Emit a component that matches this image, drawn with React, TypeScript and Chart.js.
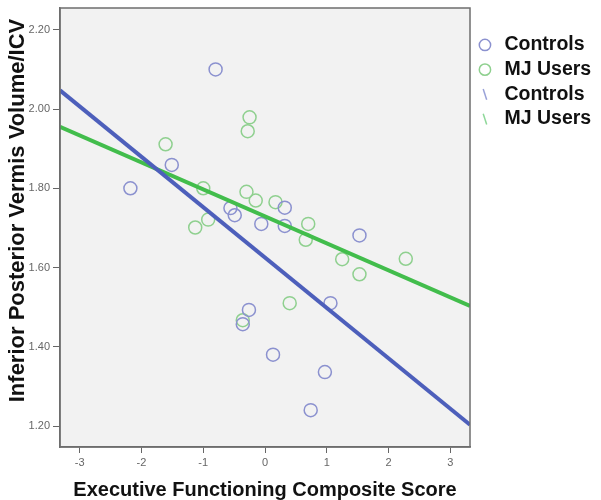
import React, { useEffect, useRef } from "react";
import { Chart, registerables } from "chart.js";

Chart.register(...registerables);

// Controls (blue) scatter points
const controlsX = [-0.8, -1.51, -2.18, -0.56, -0.49, -0.06, 0.32, 0.32, 1.53, 1.06, -0.26, -0.36, 0.13, 0.97, 0.74];
const controlsY = [2.1, 1.859, 1.8, 1.75, 1.732, 1.71, 1.751, 1.705, 1.681, 1.51, 1.493, 1.457, 1.38, 1.336, 1.24];

// MJ Users (green) scatter points
const mjX = [-0.25, -0.28, -1.61, -1.0, -0.3, -0.15, 0.17, -0.92, -1.13, 0.7, 0.66, 1.25, 1.53, 0.4, -0.36, 2.28];
const mjY = [1.979, 1.944, 1.911, 1.8, 1.791, 1.769, 1.765, 1.721, 1.701, 1.71, 1.67, 1.621, 1.583, 1.51, 1.467, 1.622];

// Fit lines (endpoints read at the plot edges)
const fitX = [-3.32, 3.32];
const controlsFitY = [2.047, 1.203];
const mjFitY = [1.955, 1.503];

const xTicks = [-3, -2, -1, 0, 1, 2, 3];
const yTicks = [1.2, 1.4, 1.6, 1.8, 2.0, 2.2];

const seriesLabels = ["Controls", "MJ Users", "Controls", "MJ Users"];

const toPts = (xs: number[], ys: number[]) => xs.map((x, i) => ({ x, y: ys[i] }));

export default function App() {
  const ref = useRef<HTMLCanvasElement>(null);

  useEffect(() => {
    if (!ref.current) return;
    const bgPlugin = {
      id: "plotBg",
      beforeDraw(chart: any) {
        const { ctx, chartArea: a } = chart;
        ctx.save();
        ctx.fillStyle = "#f2f2f2";
        ctx.fillRect(a.left, a.top, a.right - a.left, a.bottom - a.top);
        ctx.restore();
      },
      afterDraw(chart: any) {
        const { ctx, chartArea: a } = chart;
        ctx.save();
        ctx.strokeStyle = "#6e6e6e";
        ctx.lineWidth = 1.5;
        ctx.strokeRect(a.left, a.top, a.right - a.left, a.bottom - a.top);
        ctx.restore();
      },
    };

    const chart = new Chart(ref.current, {
      type: "scatter",
      data: {
        datasets: [
          {
            label: seriesLabels[0],
            data: toPts(controlsX, controlsY),
            borderColor: "#8b91cf",
            backgroundColor: "transparent",
            pointRadius: 6.5,
            pointBorderWidth: 1.5,
            pointStyle: "circle",
            order: 2,
          },
          {
            label: seriesLabels[1],
            data: toPts(mjX, mjY),
            borderColor: "#8fd08f",
            backgroundColor: "transparent",
            pointRadius: 6.5,
            pointBorderWidth: 1.5,
            pointStyle: "circle",
            order: 2,
          },
          {
            label: seriesLabels[2],
            data: toPts(fitX, controlsFitY),
            showLine: true,
            borderColor: "#4d5fbb",
            backgroundColor: "#4d5fbb",
            borderWidth: 4,
            pointRadius: 0,
            pointStyle: "line",
            pointRotation: 72,
            order: 1,
          },
          {
            label: seriesLabels[3],
            data: toPts(fitX, mjFitY),
            showLine: true,
            borderColor: "#42bd4c",
            backgroundColor: "#42bd4c",
            borderWidth: 4,
            pointRadius: 0,
            pointStyle: "line",
            pointRotation: 72,
            order: 1,
          },
        ],
      },
      options: {
        animation: false,
        responsive: false,
        maintainAspectRatio: false,
        layout: { padding: { top: 5, left: 0, right: 0, bottom: 0 } },
        plugins: {
          tooltip: { enabled: false },
          legend: {
            position: "right",
            align: "start",
            title: { display: true, text: "", font: { size: 10, lineHeight: 1 }, padding: { top: 7.5, bottom: 7.5 } },
            labels: {
              usePointStyle: true,
              boxWidth: 19.5,
              boxHeight: 8,
              padding: 5.2,
              color: "#111",
              font: { family: "'Liberation Sans', Arial, sans-serif", size: 19.5, weight: "bold" },
              sort: (a: any, b: any) => a.datasetIndex - b.datasetIndex,
              generateLabels: (chart: any) => {
                const items = Chart.defaults.plugins.legend.labels.generateLabels(chart);
                return items.map((it: any) => {
                  const line = it.datasetIndex >= 2;
                  return {
                    ...it,
                    lineWidth: 1.5,
                    fillStyle: "transparent",
                    strokeStyle: line ? (it.datasetIndex === 2 ? "#9aa2d8" : "#8fd89a") : it.strokeStyle,
                  };
                });
              },
            },
          },
        },
        scales: {
          x: {
            type: "linear",
            min: -3.32,
            max: 3.32,
            afterBuildTicks: (s: any) => {
              s.ticks = xTicks.map((v) => ({ value: v }));
            },
            afterFit: (s: any) => {
              s.height = 53;
              s.paddingLeft = 0;
              s.paddingRight = 0;
            },
            grid: { display: true, drawOnChartArea: false, drawTicks: true, tickLength: 6, color: "#666", lineWidth: 1 },
            border: { display: true, color: "#6e6e6e", width: 1.5 },
            ticks: {
              color: "#666",
              padding: 3,
              font: { family: "'Liberation Sans', Arial, sans-serif", size: 11 },
              callback: (v: any) => String(v),
            },
            title: {
              display: true,
              text: "Executive Functioning Composite Score",
              color: "#111",
              font: { family: "'Liberation Sans', Arial, sans-serif", size: 20, weight: "bold", lineHeight: 1 },
              padding: { top: 0, bottom: 0 },
            },
          },
          y: {
            type: "linear",
            min: 1.147,
            max: 2.255,
            afterBuildTicks: (s: any) => {
              s.ticks = yTicks.map((v) => ({ value: v }));
            },
            afterFit: (s: any) => {
              s.width = 60;
              s.paddingTop = 0;
              s.paddingBottom = 0;
            },
            afterUpdate: (s: any) => {
              if (!s._titleShifted) {
                const orig = s.drawTitle.bind(s);
                s.drawTitle = () => {
                  s.ctx.save();
                  s.ctx.translate(0, -17);
                  orig();
                  s.ctx.restore();
                };
                s._titleShifted = true;
              }
            },
            grid: { display: true, drawOnChartArea: false, drawTicks: true, tickLength: 7, color: "#666", lineWidth: 1 },
            border: { display: true, color: "#6e6e6e", width: 1.5 },
            ticks: {
              color: "#666",
              padding: 3,
              font: { family: "'Liberation Sans', Arial, sans-serif", size: 11 },
              callback: (v: any) => Number(v).toFixed(2),
            },
            title: {
              display: true,
              text: "Inferior Posterior Vermis Volume/ICV",
              color: "#111",
              font: { family: "'Liberation Sans', Arial, sans-serif", size: 22, weight: "bold", lineHeight: 1 },
              padding: { top: 7, bottom: 0 },
            },
          },
        },
      },
      plugins: [bgPlugin],
    } as any);

    const lg: any = (chart as any).legend;
    if (lg) {
      const origFit = lg.fit.bind(lg);
      lg.fit = function () {
        origFit();
        this.width = 131;
      };
      chart.update();
    }

    return () => chart.destroy();
  }, []);

  return (
    <div style={{ position: "fixed", left: 0, top: 0, width: 601, height: 500, background: "#fff" }}>
      <canvas ref={ref} width={601} height={500} style={{ width: 601, height: 500 }} />
    </div>
  );
}
